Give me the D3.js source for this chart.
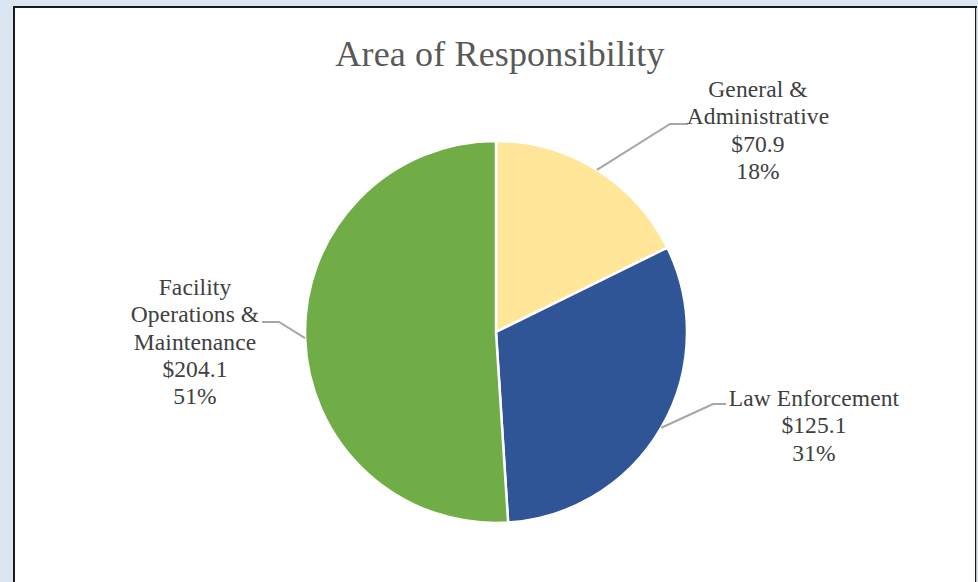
<!DOCTYPE html>
<html>
<head>
<meta charset="utf-8">
<script src="https://cdn.jsdelivr.net/npm/d3@7"></script>
<style>
  body { margin: 0; background: #dce6f2; }
  svg { display: block; }
</style>
</head>
<body>
<svg id="canvas" width="978" height="582"></svg>
<script>
// chart data
let categories = ['General & Administrative', 'Law Enforcement', 'Facility Operations & Maintenance']
let amounts = [70.9, 125.1, 204.1]
let percents = ['18%', '31%', '51%']
let labelLines = [
    ['General &', 'Administrative'],
    ['Law Enforcement'],
    ['Facility', 'Operations &', 'Maintenance']
]
let colors = ['#ffe699', '#2f5597', '#70ad47']

let canvas = d3.select('#canvas')

// white chart panel with dark border
canvas.append('rect')
      .attr('x', 14).attr('y', 7)
      .attr('width', 962).attr('height', 590)
      .attr('fill', '#ffffff')
      .attr('stroke', '#1a1a1a')
      .attr('stroke-width', 2)
canvas.append('line')
      .attr('x1', 976.5).attr('x2', 976.5)
      .attr('y1', 8).attr('y2', 582)
      .attr('stroke', '#bfbfbf')

canvas.append('text')
      .attr('x', 500).attr('y', 66)
      .attr('text-anchor', 'middle')
      .attr('font-family', 'Liberation Serif, Times New Roman, serif')
      .attr('font-size', 36)
      .attr('letter-spacing', 0.15)
      .attr('fill', '#595959')
      .text('Area of Responsibility')

let cx = 496, cy = 332, radius = 191

let pie = d3.pie().sort(null).value(d => d)
let arcs = pie(amounts)
let arc = d3.arc().innerRadius(0).outerRadius(radius)

let g = canvas.append('g').attr('transform', `translate(${cx},${cy})`)

g.selectAll('path')
 .data(arcs)
 .enter()
 .append('path')
 .attr('d', arc)
 .attr('fill', (d, i) => colors[i])
 .attr('stroke', '#ffffff')
 .attr('stroke-width', 2.5)
 .attr('stroke-linejoin', 'round')

// label placement (elbow of leader, text centre, first baseline)
let labelPos = [
    {ex: 670, ey: 124, hx: 688, tx: 758, ty: 97},
    {ex: 713, ey: 404, hx: 726, tx: 814, ty: 406},
    {ex: 279, ey: 322, hx: 262, tx: 195, ty: 295}
]

arcs.forEach((d, i) => {
    let mid = (d.startAngle + d.endAngle) / 2
    let sx = cx + radius * Math.sin(mid)
    let sy = cy - radius * Math.cos(mid)
    let p = labelPos[i]
    canvas.append('polyline')
          .attr('points', `${sx},${sy} ${p.ex},${p.ey} ${p.hx},${p.ey}`)
          .attr('fill', 'none')
          .attr('stroke', '#a6a6a6')
          .attr('stroke-width', 2)

    let lines = labelLines[i].concat(['$' + amounts[i].toFixed(1), percents[i]])
    let t = canvas.append('text')
          .attr('text-anchor', 'middle')
          .attr('font-family', 'Liberation Serif, Times New Roman, serif')
          .attr('font-size', 23.5)
          .attr('letter-spacing', 0.1)
          .attr('fill', '#404040')
    lines.forEach((line, j) => {
        t.append('tspan')
         .attr('x', p.tx)
         .attr('y', p.ty + j * 27.3)
         .text(line)
    })
})
</script>
</body>
</html>
